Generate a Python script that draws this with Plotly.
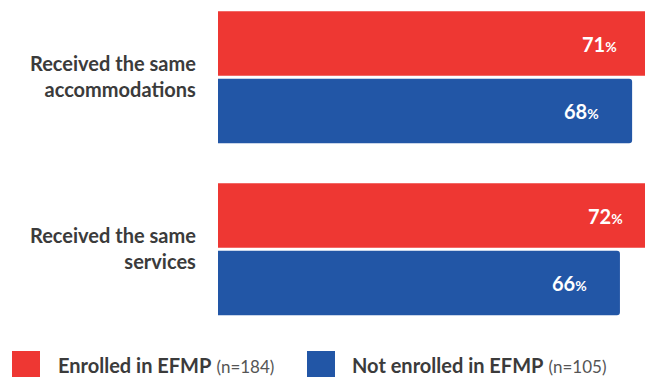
import plotly.graph_objects as go

# ---- data -------------------------------------------------------------
categories = ["Received the same accommodations", "Received the same services"]
category_lines = [["Received the same", "accommodations"],
                  ["Received the same", "services"]]
series_names = ["Enrolled in EFMP", "Not enrolled in EFMP"]
series_counts = ["(n=184)", "(n=105)"]
enrolled = [71, 72]
not_enrolled = [68, 66]

# ---- style ------------------------------------------------------------
COLORS = ["#EE3733", "#2256A6"]
FONT = "Lato"
TEXT_DARK = "#3b3b3b"
TEXT_SOFT = "#555555"

LEFT = 218          # left margin (px) where bars begin
PLOT_H = 330        # plot area height (px)
FIG_W = 675         # the red bars run past the right edge of the page
FIG_H = 377
PLOT_W = FIG_W - LEFT

X_MAX = PLOT_W / 6.09           # ~6.09 px per percentage point
Y_RANGE = [1.4692, -0.4494]     # reversed category range
HALF_GROUP = 33.75              # px offset of each bar from its category centre


def paper_x(px):
    return (px - LEFT) / PLOT_W


def paper_y(py):
    return 1 - py / PLOT_H


fig = go.Figure()
for name, vals, col in zip(series_names, [enrolled, not_enrolled], COLORS):
    fig.add_trace(go.Bar(
        y=categories, x=vals, name=name, orientation="h",
        marker=dict(color=col, line=dict(width=0), cornerradius=3),
        hoverinfo="skip", showlegend=False,
    ))

annotations = []

# value labels near the end of each bar
for vals, shift in zip([enrolled, not_enrolled], [HALF_GROUP, -HALF_GROUP]):
    for cat, v in zip(categories, vals):
        annotations.append(dict(
            x=v, y=cat, xref="x", yref="y",
            text=f"<b>{v}</b><span style='font-size:14px'><b>%</b></span>",
            showarrow=False, xanchor="right", yanchor="middle",
            xshift=-31, yshift=shift,
            font=dict(family=FONT, size=20, color="white"),
        ))

# category labels, two lines each, right-aligned beside the bars
for cat, lines in zip(categories, category_lines):
    annotations.append(dict(
        x=0, y=cat, xref="paper", yref="y",
        text="<br>".join(f"<b>{ln}</b>" for ln in lines),
        showarrow=False, align="right",
        xanchor="right", yanchor="middle", xshift=-20, yshift=1,
        font=dict(family=FONT, size=20, color=TEXT_DARK),
    ))

# custom legend: large colour squares with labels
shapes = []
legend_items = [(12, 58), (307, 352)]
for (sq_x, tx_x), name, count, col in zip(legend_items, series_names,
                                          series_counts, COLORS):
    shapes.append(dict(
        type="rect", xref="paper", yref="paper",
        x0=paper_x(sq_x), x1=paper_x(sq_x + 28),
        y0=paper_y(351), y1=paper_y(379),
        fillcolor=col, line=dict(width=0),
    ))
    annotations.append(dict(
        x=paper_x(tx_x - 2), y=paper_y(365), xref="paper", yref="paper",
        text=(f"<b>{name}</b> "
              f"<span style='font-size:17px;color:{TEXT_SOFT}'>{count}</span>"),
        showarrow=False, xanchor="left", yanchor="middle",
        font=dict(family=FONT, size=20, color=TEXT_DARK),
    ))

fig.update_layout(
    width=FIG_W, height=FIG_H,
    margin=dict(l=LEFT, r=0, t=0, b=FIG_H - PLOT_H, pad=0),
    barmode="group", bargap=0.215, bargroupgap=0.044,
    paper_bgcolor="white", plot_bgcolor="white",
    xaxis=dict(range=[0, X_MAX], visible=False, fixedrange=True),
    yaxis=dict(type="category", range=Y_RANGE, showticklabels=False,
               showgrid=False, zeroline=False, showline=False,
               fixedrange=True),
    annotations=annotations, shapes=shapes,
    font=dict(family=FONT),
)

fig.write_html(
    "out.html",
    config={"displayModeBar": False},
    post_script=("document.documentElement.style.overflow='hidden';"
                 "document.body.style.overflow='hidden';"),
)
